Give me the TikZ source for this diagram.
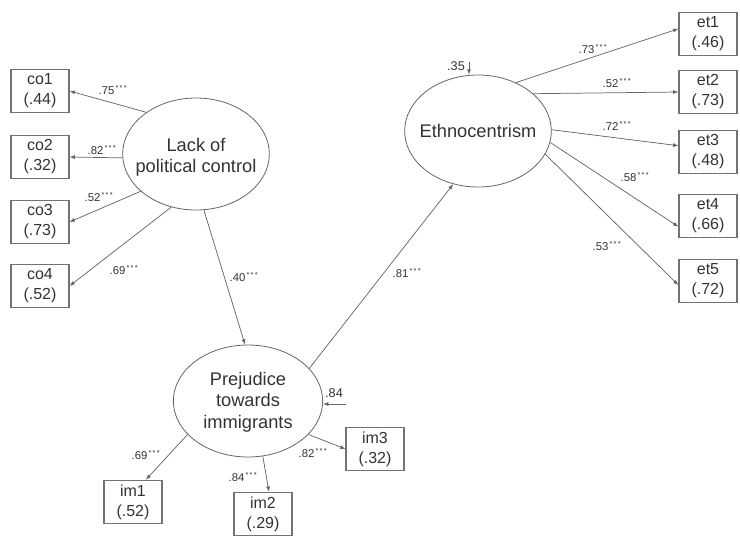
\documentclass[tikz,border=0pt]{standalone}
\usepackage{fontspec}
\setmainfont{Liberation Sans}
\usetikzlibrary{shapes.geometric,arrows.meta}
\newcommand{\sig}{\textsuperscript{\fontsize{5.5}{5.5}\selectfont\,*\,*\,*}}

\begin{document}
\begin{tikzpicture}[x=0.75pt,y=-0.75pt,
  latent/.style={draw=linecolor, ellipse, line width=0.6pt, minimum width=110pt, minimum height=84pt, inner sep=0pt},
  latenttext/.style={align=center, font=\fontsize{13.7}{16}\selectfont, text=textcolor},
  item/.style={draw=boxcolor, line width=0.8pt, minimum width=43.5pt, minimum height=32.5pt, align=center, inner sep=0pt, font=\fontsize{12}{15}\selectfont, text=textcolor},
  link/.style={draw=linecolor, line width=0.55pt, -{Latex[length=4pt,width=3pt]}},
  coef/.style={inner sep=0pt, font=\fontsize{8.5}{8.5}\selectfont, text=textcolor}]
  % Define colors
  \colorlet{linecolor}{black!60}
  \colorlet{boxcolor}{black!55}
  \colorlet{textcolor}{black!80}

  \useasboundingbox (0,0) rectangle (740,536);

  % Latent factors
  \node[latent] (lack) at (196,154) {};
  \node[latenttext] (lacktext) at (196,157) {Lack of\\political control};
  \node[latent, minimum width=110pt] (ethno) at (478,131) {};
  \node[latenttext] (ethnotext) at (478,131) {Ethnocentrism};
  \node[latent, minimum width=112pt] (prej) at (248,401) {};
  \node[latenttext] (prejtext) at (248,402) {Prejudice\\towards\\immigrants};

  % Indicators
  \node[item] (co1) at (40,91) {co1\\(.44)};
  \node[item] (co2) at (40,157) {co2\\(.32)};
  \node[item] (co3) at (40,222) {co3\\(.73)};
  \node[item] (co4) at (40,286) {co4\\(.52)};

  \node[item] (et1) at (708,34) {et1\\(.46)};
  \node[item] (et2) at (708,92) {et2\\(.73)};
  \node[item] (et3) at (708,152) {et3\\(.48)};
  \node[item] (et4) at (708,216) {et4\\(.66)};
  \node[item] (et5) at (708,281) {et5\\(.72)};

  \node[item] (im1) at (133,502) {im1\\(.52)};
  \node[item] (im2) at (263,514) {im2\\(.29)};
  \node[item] (im3) at (375,449) {im3\\(.32)};

  % Loadings
  \draw[link] (lack.140) -- (co1.east);
  \draw[link] (lack.183) -- (co2.east);
  \draw[link] (lack.214) -- (co3.east);
  \draw[link] (lack.245) -- (co4.east);

  \draw[link] (ethno.52) -- (et1.170);
  \draw[link] (ethno.34) -- (et2.west);
  \draw[link] (ethno.1) -- (et3.168);
  \draw[link] (ethno.351) -- (et4.200);
  \draw[link] (ethno.341) -- (et5.188);

  \draw[link] (prej.209) -- (im1.60);
  \draw[link] (prej.285) -- (im2.75);
  \draw[link] (prej.331) -- (im3.west);

  % Structural paths
  \draw[link] (lack.278) -- (prej.93);
  \draw[link] (prej.28) -- (ethno.245);

  % Residuals
  \coordinate (res1) at (469,62);
  \coordinate (res2) at (346,404);
  \draw[link] (res1) -- (res1 |- ethno.north);
  \draw[link] (res2) -- (prej.east |- res2);

  % Coefficients
  \node[coef] (lco1) at (113,90) {.75\sig};
  \node[coef] (lco2) at (102,150) {.82\sig};
  \node[coef] (lco3) at (99,197) {.52\sig};
  \node[coef] (lco4) at (124,270) {.69\sig};

  \node[coef] (let1) at (593,49) {.73\sig};
  \node[coef] (let2) at (617,83) {.52\sig};
  \node[coef] (let3) at (617,126) {.72\sig};
  \node[coef] (let4) at (635,177) {.58\sig};
  \node[coef] (let5) at (607,246) {.53\sig};

  \node[coef] (lim1) at (146,455) {.69\sig};
  \node[coef] (lim2) at (243,477) {.84\sig};
  \node[coef] (lim3) at (313,453) {.82\sig};

  \node[coef] (llp) at (244,277) {.40\sig};
  \node[coef] (lpe) at (407,273) {.81\sig};
  \node[coef, font=\fontsize{9.5}{9.5}\selectfont] (lres1) at (456,66) {.35};
  \node[coef, font=\fontsize{9.5}{9.5}\selectfont] (lres2) at (334,393) {.84};
\end{tikzpicture}
\end{document}
